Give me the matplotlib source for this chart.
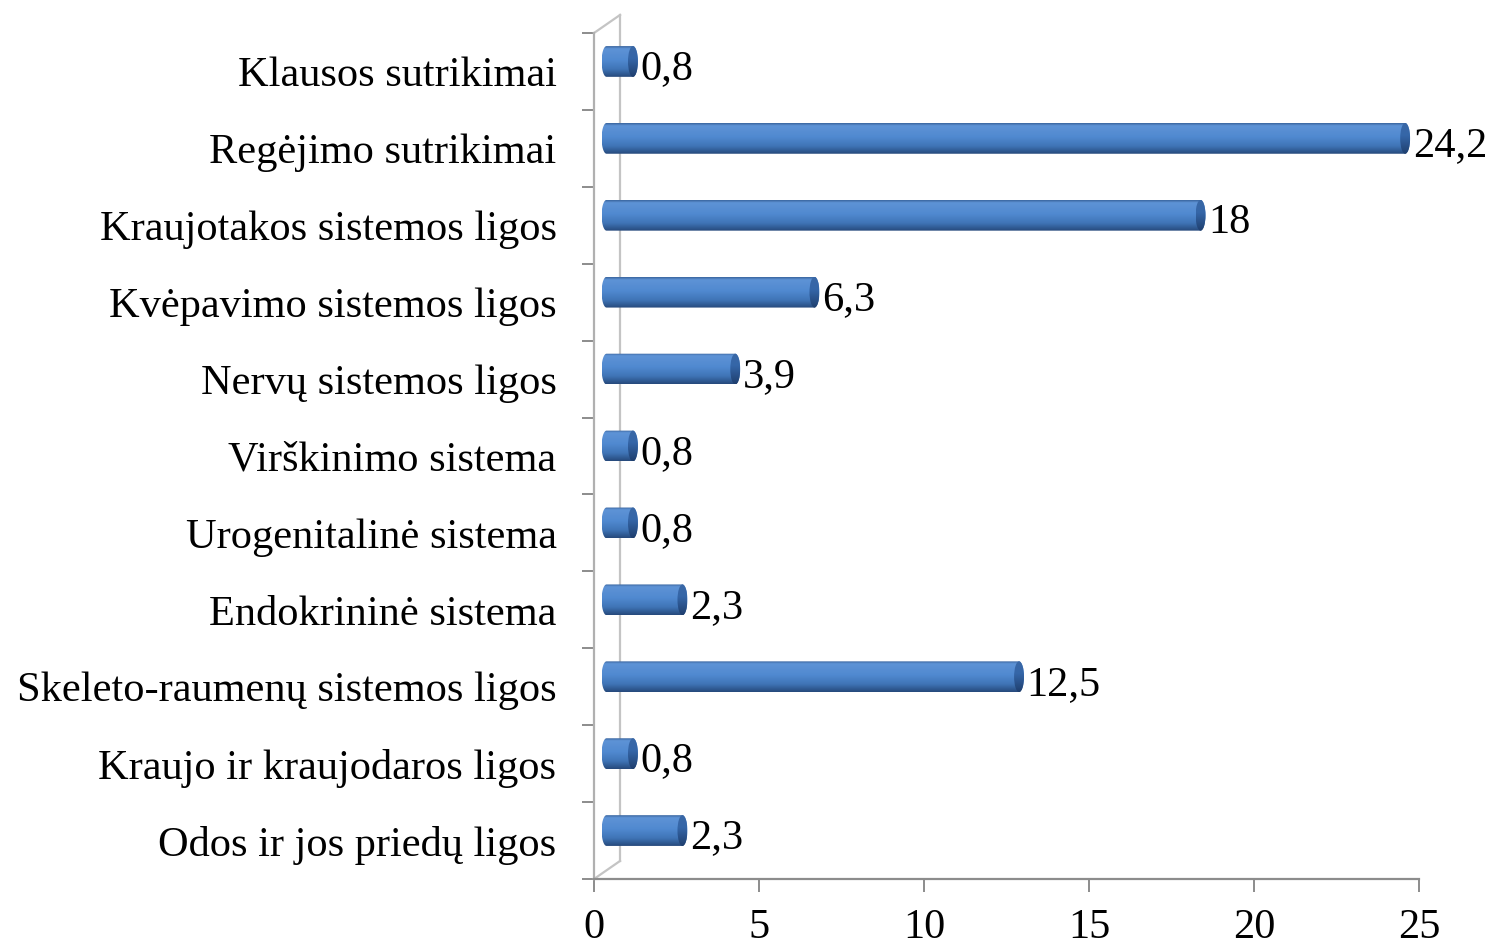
import matplotlib
matplotlib.use("Agg")
import matplotlib.pyplot as plt
import numpy as np
from matplotlib.path import Path
from matplotlib.patches import PathPatch, Ellipse
from matplotlib.colors import to_rgb

plt.rcParams['font.family'] = ['Liberation Serif', 'DejaVu Serif']

# data, bottom to top
categories = ["Odos ir jos priedų ligos", "Kraujo ir kraujodaros ligos",
              "Skeleto-raumenų sistemos ligos", "Endokrininė sistema",
              "Urogenitalinė sistema", "Virškinimo sistema",
              "Nervų sistemos ligos", "Kvėpavimo sistemos ligos",
              "Kraujotakos sistemos ligos", "Regėjimo sutrikimai",
              "Klausos sutrikimai"]
values = [2.3, 0.8, 12.5, 2.3, 0.8, 0.8, 3.9, 6.3, 18, 24.2, 0.8]
value_labels = ["2,3", "0,8", "12,5", "2,3", "0,8", "0,8", "3,9", "6,3", "18", "24,2", "0,8"]
xticks = [0, 5, 10, 15, 20, 25]

FS = 30.5

# pseudo 3d geometry (data units)
depth_x, depth_y = 0.79, 0.235
bar_off_x, bar_off_y = 0.38, 0.13
bar_h, cap_r = 0.40, 0.15


def gradient(stops, n=64):
    pos = [s[0] for s in stops]
    cols = np.array([to_rgb(s[1]) for s in stops])
    t = np.linspace(0, 1, n)
    arr = np.column_stack([np.interp(t, pos, cols[:, i]) for i in range(3)])
    return arr.reshape(n, 1, 3)


body_grad = gradient([(0, "#3B67A0"), (0.08, "#5E93D6"), (0.45, "#5089D0"),
                      (0.75, "#3F74B6"), (1.0, "#264A7C")])
cap_grad = gradient([(0, "#3A68A6"), (0.4, "#3566A8"), (1.0, "#1F3F6E")])


def cylinder(ax, x0, x1, yc, h, r):
    t = np.linspace(-np.pi / 2, np.pi / 2, 40)
    right = np.column_stack([x1 + r * np.cos(t), yc + h / 2 * np.sin(t)])
    left = np.column_stack([x0 - r * np.cos(t), yc - h / 2 * np.sin(t)])
    verts = np.vstack([right, left, right[:1]])
    patch = PathPatch(Path(verts, closed=True), facecolor='none', edgecolor='none')
    ax.add_patch(patch)
    im = ax.imshow(body_grad, extent=[x0 - r, x1 + r, yc - h / 2, yc + h / 2],
                   aspect='auto', origin='upper', zorder=3, interpolation='bilinear')
    im.set_clip_path(patch)
    cap = Ellipse((x1, yc), 2 * r, h, facecolor='none', edgecolor='none')
    ax.add_patch(cap)
    im2 = ax.imshow(cap_grad, extent=[x1 - r, x1 + r, yc - h / 2, yc + h / 2],
                    aspect='auto', origin='upper', zorder=4, interpolation='bilinear')
    im2.set_clip_path(cap)


fig = plt.figure(figsize=(14.95, 9.47), dpi=100)
ax = fig.add_axes([594 / 1495, 1 - 879 / 947, 825 / 1495, 846 / 947])

n = len(categories)
ypos = np.arange(n)

# back wall lines
wall = '#C4C4C4'
ax.plot([depth_x, depth_x], [-0.5 + depth_y, n - 0.5 + depth_y], color=wall, lw=1.6,
        zorder=2, clip_on=False)
ax.plot([0, depth_x], [-0.5, -0.5 + depth_y], color=wall, lw=1.6, zorder=2, clip_on=False)
ax.plot([0, depth_x], [n - 0.5, n - 0.5 + depth_y], color=wall, lw=1.6, zorder=2, clip_on=False)

for y, v, lab in zip(ypos, values, value_labels):
    yc = y + bar_off_y
    cylinder(ax, bar_off_x, v + bar_off_x, yc, bar_h, cap_r)
    ax.text(v + bar_off_x + cap_r + 0.08, yc - 0.1, lab, fontsize=FS,
            ha='left', va='center', zorder=5)

ax.set_xlim(0, 25)
ax.set_ylim(-0.5, n - 0.5)

ax.set_xticks(xticks)
ax.set_xticklabels([str(t) for t in xticks], fontsize=FS)
ax.set_yticks(np.arange(-0.5, n, 1.0))
ax.set_yticklabels([])
ax.set_yticks(ypos, minor=True)
ax.set_yticklabels(categories, minor=True, fontsize=FS)

ax.tick_params(axis='x', direction='out', length=9.5, width=1.4, color='#8C8C8C', pad=12)
ax.tick_params(axis='y', which='major', direction='out', length=8.6, width=1.4, color='#8C8C8C')
ax.tick_params(axis='y', which='minor', length=0, pad=27)

for s in ['top', 'right']:
    ax.spines[s].set_visible(False)
ax.spines['left'].set_color('#B0B0B0')
ax.spines['left'].set_linewidth(1.6)
ax.spines['bottom'].set_color('#8C8C8C')
ax.spines['bottom'].set_linewidth(1.6)

fig.savefig("out.png", dpi=100)
